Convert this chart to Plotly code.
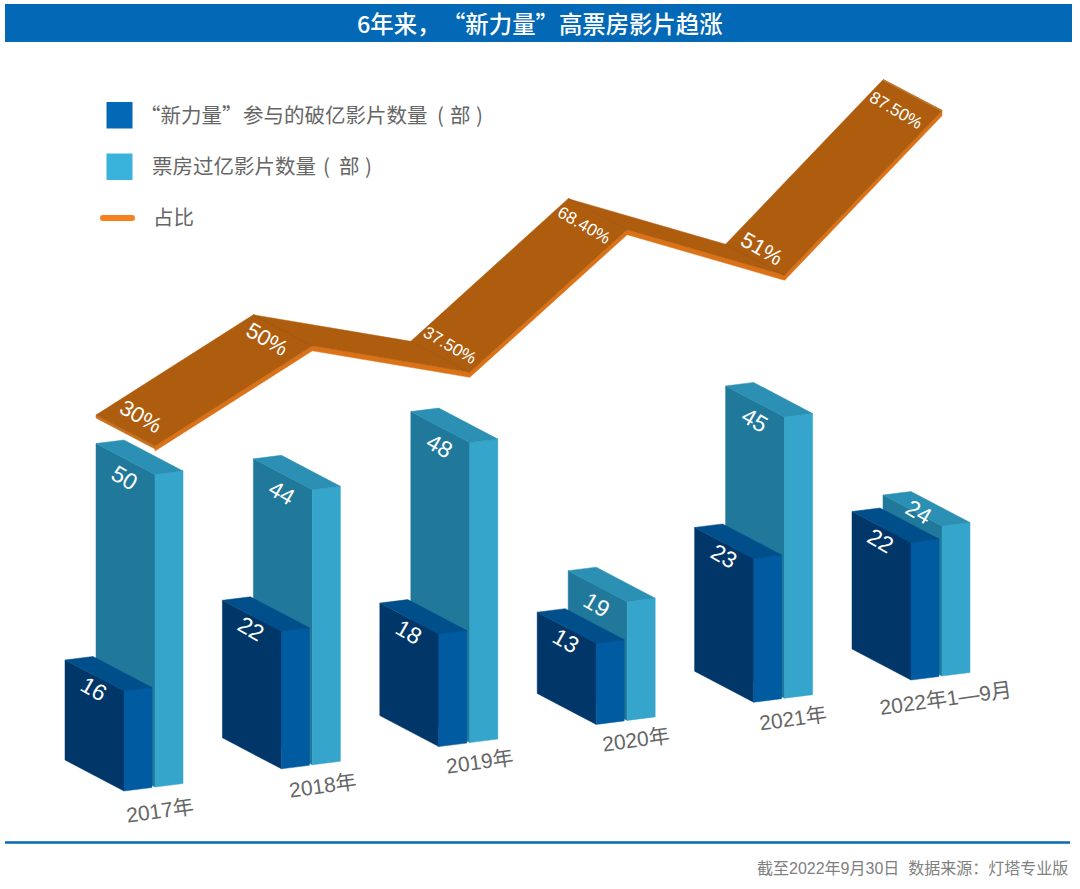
import plotly.graph_objects as go

# ---------- data ----------
years = ["2017年", "2018年", "2019年", "2020年", "2021年", "2022年1—9月"]
new_force_films = [16, 22, 18, 13, 23, 22]
total_films = [50, 44, 48, 19, 45, 24]
share_values = [30, 50, 37.5, 68.4, 51, 87.5]
share_labels = ["30%", "50%", "37.50%", "68.40%", "51%", "87.50%"]

# ---------- oblique projection (value space -> page) ----------
STEP = (157.4, -22.2)     # from one year to the next
DEPTH = (59, 31)          # bar's long face
SIDE = (28, -3.5)         # bar's short face
ORIGIN = (65, 760)        # first dark bar, far-left foot
LIGHT_SHIFT = (31, -4)    # light bar behind the dark bar
BAR_UNIT = 6.25           # px per film
LINE_UNIT = 3.9           # px per percentage point
LINE_ZERO = 563           # page y of 0 % on the ribbon's front edge (first year)
LINE_X0 = 155
RIBBON_DROP = 5

DARK = dict(front="#003668", side="#005BA0", top="#004F8A")
LIGHT = dict(front="#20799B", side="#36A5CB", top="#2B90B3")
GREY = "#666666"
CJK = "Noto Sans CJK SC"
LATIN = "Liberation Sans, Noto Sans CJK SC"

fig = go.Figure()


def poly(points, color):
    xs = [p[0] for p in points] + [points[0][0]]
    ys = [p[1] for p in points] + [points[0][1]]
    fig.add_trace(go.Scatter(x=xs, y=ys, mode="lines", fill="toself", fillcolor=color,
                             line=dict(width=0.5, color=color), hoverinfo="skip", showlegend=False))


def stroke(points, color, width):
    fig.add_trace(go.Scatter(x=[p[0] for p in points], y=[p[1] for p in points], mode="lines",
                             line=dict(width=width, color=color), hoverinfo="skip", showlegend=False))


def label(x, y, text, size, color="#FFFFFF", angle=0, family=LATIN, **kw):
    fig.add_annotation(x=x, y=y, xref="x", yref="y", text=text, showarrow=False, textangle=angle,
                       font=dict(size=size, color=color, family=family), xanchor="center",
                       yanchor="middle", **kw)


def bar(i, value, palette, shift=(0, 0)):
    x0 = ORIGIN[0] + STEP[0] * i + shift[0]
    y0 = ORIGIN[1] + STEP[1] * i + shift[1]
    h = value * BAR_UNIT
    a = (x0, y0)
    b = (x0 + DEPTH[0], y0 + DEPTH[1])
    c = (b[0] + SIDE[0], b[1] + SIDE[1])
    up = lambda p: (p[0], p[1] - h)
    poly([a, b, up(b), up(a)], palette["front"])
    poly([b, c, up(c), up(b)], palette["side"])
    poly([up(a), up(b), up(c), (up(a)[0] + SIDE[0], up(a)[1] + SIDE[1])], palette["top"])
    return up(a)


year_nudge = [(0, -1), (6, -3), (5, -5), (4, -5), (3, -4), (-2, -2)]
for i, year in enumerate(years):
    tl = bar(i, total_films[i], LIGHT, LIGHT_SHIFT)
    dx, dy = (36, 17) if total_films[i] - new_force_films[i] < 5 else (29, 34)
    label(tl[0] + dx, tl[1] + dy, str(total_films[i]), 23, angle=30)
    td = bar(i, new_force_films[i], DARK)
    label(td[0] + 29, td[1] + 29, str(new_force_films[i]), 23, angle=30)
    label(ORIGIN[0] + STEP[0] * i + DEPTH[0] + 36 + year_nudge[i][0],
          ORIGIN[1] + STEP[1] * i + DEPTH[1] + 20 + year_nudge[i][1],
          year, 21, GREY, angle=-8)

# ribbon
front = [(LINE_X0 + STEP[0] * i, LINE_ZERO - LINE_UNIT * v + STEP[1] * i) for i, v in enumerate(share_values)]
back = [(x - DEPTH[0], y - DEPTH[1]) for x, y in front]
drop = [(x, y + RIBBON_DROP) for x, y in front]
poly(front + drop[::-1], "#DC7218")
poly([back[0], front[0], (front[0][0], front[0][1] + 3), (back[0][0], back[0][1] + 3)], "#C8701E")
for i in range(len(front) - 1):
    poly([back[i], front[i], front[i + 1], back[i + 1]], "#AE5C0E")
for i in range(1, len(front) - 1):
    stroke([back[i], front[i]], "#9C540E", 0.8)
stroke([back[-1], front[-1]], "#C07A30", 1.5)

ribbon_offsets = [(-14, -30), (-45, -6), (-20, -27), (-43, -4), (-23, -27), (-46, 0)]
ribbon_sizes = [22, 22, 17, 17, 22, 17]
for (x, y), text, off, size in zip(front, share_labels, ribbon_offsets, ribbon_sizes):
    label(x + off[0], y + off[1], text, size, angle=30)

# legend keys and header / footer
shapes = [
    dict(type="rect", x0=5, x1=1072, y0=4, y1=42, fillcolor="#0368B5", line_width=0),
    dict(type="rect", x0=106.5, x1=132.5, y0=102, y1=128.5, fillcolor="#0368B5", line_width=0),
    dict(type="rect", x0=106.5, x1=132.5, y0=153.5, y1=180, fillcolor="#3AB3DC", line_width=0),
    dict(type="path", path="M 103 215 L 132 215 Q 135 215 135 218 Q 135 221 132 221 L 103 221 "
                           "Q 100 221 100 218 Q 100 215 103 215 Z", fillcolor="#F5821F", line_width=0),
    dict(type="line", x0=5, x1=1070, y0=842.5, y1=842.5, line=dict(color="#0368B5", width=2.5)),
]
fig.add_annotation(x=355, y=23, xref="x", yref="y", text="6年来，\u200a“新力量”高票房影片趋涨",
                   showarrow=False, xanchor="left", yanchor="middle",
                   font=dict(size=23.4, color="#FFFFFF", family=CJK, weight=500))
for x, y, text in [(138, 114, "“新力量”"),
                   (241, 114, "参与的破亿影片数量"),
                   (435, 114, "("), (448, 114, "部"), (474, 114, ")"),
                   (150, 165, "票房过亿影片数量"),
                   (321, 165, "("), (337, 165, "部"), (363, 165, ")"),
                   (151, 216, "占比")]:
    fig.add_annotation(x=x, y=y, xref="x", yref="y", text=text, showarrow=False, xanchor="left",
                       yanchor="middle", font=dict(size=20.5, color=GREY, family=CJK))
fig.add_annotation(x=1070, y=868, xref="x", yref="y", text="截至2022年9月30日&nbsp;&nbsp;数据来源：灯塔专业版",
                   showarrow=False, xanchor="right", yanchor="middle",
                   font=dict(size=16, color="#808080", family=LATIN))

fig.update_layout(
    width=1080, height=889, margin=dict(l=0, r=0, t=0, b=0),
    paper_bgcolor="#FFFFFF", plot_bgcolor="#FFFFFF", showlegend=False, shapes=shapes,
    xaxis=dict(range=[0, 1080], visible=False, fixedrange=True),
    yaxis=dict(range=[889, 0], visible=False, fixedrange=True),
)
fig.write_html("out.html", config=dict(displayModeBar=False),
               post_script='document.body.style.margin="0";document.body.style.overflow="hidden";')
